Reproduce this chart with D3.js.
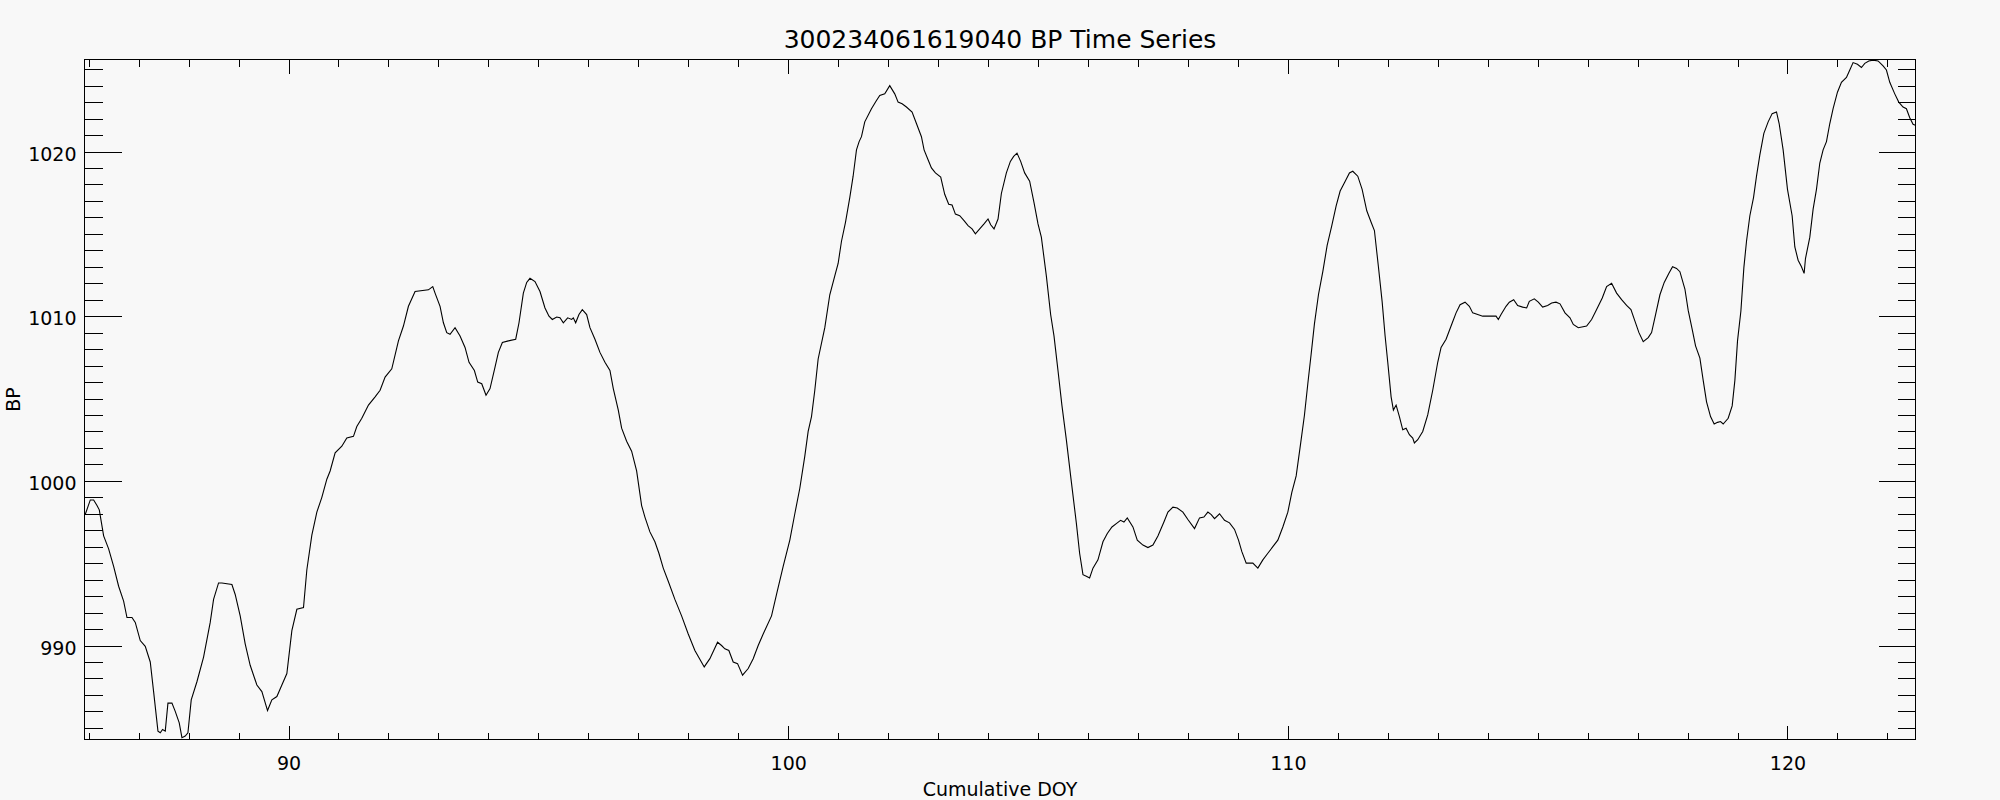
<!DOCTYPE html>
<html>
<head>
<meta charset="utf-8">
<script src="https://cdn.jsdelivr.net/npm/d3@7"></script>
<style>
  html, body { margin: 0; padding: 0; background: #f8f8f8; }
  svg { display: block; }
  text { font-family: "DejaVu Sans", sans-serif; fill: #000; }
</style>
</head>
<body>
<svg id="chart" width="2000" height="800"></svg>
<script>
// ---------------- data ----------------
const chartTitle = "300234061619040 BP Time Series";
const xLabel = "Cumulative DOY";
const yLabel = "BP";

const doy = [
  85.933, 86.033, 86.10, 86.167, 86.213, 86.30, 86.40, 86.50, 86.60, 86.70, 86.767, 86.867, 86.933,
  87.033, 87.133, 87.233, 87.30, 87.387, 87.433, 87.48, 87.533, 87.587, 87.667, 87.733, 87.813, 87.867,
  87.933, 87.987, 88.053, 88.167, 88.30, 88.433, 88.50, 88.60, 88.667, 88.867, 88.933, 89.033, 89.133,
  89.233, 89.367, 89.467, 89.58, 89.667, 89.767, 89.867, 89.967, 90.067, 90.167, 90.30, 90.367, 90.467,
  90.567, 90.667, 90.767, 90.833, 90.933, 91.067, 91.167, 91.30, 91.367, 91.467, 91.60, 91.733, 91.833,
  91.933, 92.067, 92.20, 92.30, 92.40, 92.533, 92.80, 92.887, 92.933, 93.033, 93.10, 93.167, 93.233,
  93.333, 93.433, 93.533, 93.613, 93.72, 93.787, 93.867, 93.953, 94.033, 94.133, 94.20, 94.28, 94.40,
  94.547, 94.613, 94.70, 94.767, 94.833, 94.933, 95.033, 95.133, 95.213, 95.28, 95.367, 95.433, 95.50,
  95.587, 95.667, 95.70, 95.747, 95.813, 95.88, 95.967, 96.033, 96.133, 96.233, 96.333, 96.433, 96.50,
  96.60, 96.667, 96.767, 96.867, 96.967, 97.067, 97.133, 97.233, 97.333, 97.413, 97.50, 97.60, 97.733,
  97.867, 98.0, 98.133, 98.32, 98.433, 98.587, 98.667, 98.733, 98.813, 98.90, 98.987, 99.087, 99.20,
  99.30, 99.40, 99.50, 99.667, 99.767, 99.90, 100.033, 100.133, 100.233, 100.333, 100.40, 100.467,
  100.533, 100.60, 100.733, 100.833, 100.933, 101.0, 101.067, 101.147, 101.233, 101.30, 101.367,
  101.42, 101.467, 101.533, 101.667, 101.767, 101.833, 101.933, 102.033, 102.133, 102.20, 102.28,
  102.367, 102.48, 102.567, 102.667, 102.72, 102.80, 102.867, 102.947, 103.053, 103.133, 103.213,
  103.28, 103.347, 103.433, 103.52, 103.60, 103.68, 103.747, 103.833, 103.92, 104.0, 104.053, 104.12,
  104.20, 104.267, 104.367, 104.447, 104.513, 104.58, 104.653, 104.733, 104.833, 104.92, 105.0,
  105.067, 105.167, 105.253, 105.32, 105.40, 105.48, 105.567, 105.667, 105.767, 105.833, 105.90,
  105.967, 106.033, 106.10, 106.20, 106.30, 106.387, 106.48, 106.567, 106.653, 106.72, 106.787,
  106.90, 106.987, 107.10, 107.20, 107.30, 107.40, 107.52, 107.60, 107.70, 107.787, 107.90, 108.0,
  108.133, 108.233, 108.32, 108.40, 108.467, 108.533, 108.633, 108.733, 108.833, 108.933, 109.013,
  109.08, 109.167, 109.233, 109.30, 109.40, 109.50, 109.60, 109.70, 109.80, 109.90, 110.0, 110.08,
  110.167, 110.253, 110.333, 110.40, 110.467, 110.533, 110.613, 110.70, 110.787, 110.88, 110.967,
  111.047, 111.133, 111.233, 111.30, 111.40, 111.487, 111.58, 111.667, 111.733, 111.813, 111.887,
  111.947, 112.0, 112.067, 112.113, 112.167, 112.233, 112.30, 112.367, 112.433, 112.50, 112.533,
  112.60, 112.70, 112.80, 112.90, 113.0, 113.067, 113.167, 113.267, 113.367, 113.447, 113.547,
  113.633, 113.70, 113.80, 113.90, 114.167, 114.213, 114.267, 114.367, 114.433, 114.52, 114.60,
  114.70, 114.78, 114.833, 114.933, 115.013, 115.10, 115.20, 115.28, 115.367, 115.447, 115.547,
  115.647, 115.713, 115.813, 115.98, 116.08, 116.18, 116.293, 116.38, 116.48, 116.58, 116.68, 116.78,
  116.867, 116.947, 117.027, 117.113, 117.213, 117.28, 117.36, 117.447, 117.533, 117.627, 117.70,
  117.78, 117.847, 117.947, 118.013, 118.093, 118.16, 118.247, 118.313, 118.38, 118.46, 118.533,
  118.60, 118.66, 118.713, 118.813, 118.893, 118.947, 119.0, 119.067, 119.127, 119.18, 119.247,
  119.32, 119.38, 119.447, 119.527, 119.613, 119.693, 119.78, 119.833, 119.913, 120.0, 120.093,
  120.147, 120.213, 120.28, 120.333, 120.36, 120.447, 120.513, 120.58, 120.647, 120.713, 120.78,
  120.847, 120.913, 121.0, 121.08, 121.18, 121.247, 121.313, 121.40, 121.48, 121.547, 121.627,
  121.713, 121.813, 121.913, 121.98, 122.047, 122.147, 122.227, 122.313, 122.38, 122.447, 122.513,
  122.56
];

const bp = [
  997.97, 998.84, 998.84, 998.5, 998.24, 996.66, 995.87, 994.8, 993.6, 992.7, 991.7, 991.7, 991.4,
  990.3, 989.95, 989.0, 987.2, 984.8, 984.7, 984.9, 984.8, 986.5, 986.5, 986.0, 985.3, 984.4,
  984.5, 984.7, 986.7, 987.8, 989.3, 991.4, 992.8, 993.8, 993.8, 993.7, 993.1, 991.8, 990.1,
  988.8, 987.6, 987.2, 986.05, 986.7, 986.9, 987.6, 988.3, 990.9, 992.2, 992.3, 994.6, 996.7,
  998.1, 999.0, 1000.1, 1000.6, 1001.7, 1002.1, 1002.6, 1002.7, 1003.3, 1003.8, 1004.6, 1005.1, 1005.5,
  1006.3, 1006.8, 1008.5, 1009.4, 1010.6, 1011.5, 1011.6, 1011.8, 1011.4, 1010.6, 1009.6, 1009.0, 1008.9,
  1009.3, 1008.8, 1008.1, 1007.2, 1006.7, 1006.0, 1005.9, 1005.2, 1005.6, 1006.9, 1007.8, 1008.4, 1008.5,
  1008.6, 1009.6, 1011.4, 1012.05, 1012.3, 1012.1, 1011.5, 1010.5, 1010.0, 1009.8, 1009.95, 1009.9, 1009.6,
  1009.9, 1009.8, 1009.9, 1009.6, 1010.1, 1010.4, 1010.1, 1009.3, 1008.6, 1007.8, 1007.2, 1006.7, 1005.6,
  1004.3, 1003.2, 1002.4, 1001.8, 1000.6, 998.5, 997.8, 996.9, 996.3, 995.6, 994.7, 993.9, 992.8,
  991.8, 990.7, 989.7, 988.7, 989.2, 990.2, 990.0, 989.8, 989.7, 989.0, 988.9, 988.2, 988.6,
  989.2, 990.0, 990.7, 991.8, 993.1, 994.8, 996.4, 998.0, 999.55, 1001.5, 1003.0, 1003.9,
  1005.5, 1007.4, 1009.3, 1011.3, 1012.45, 1013.2, 1014.55, 1015.7, 1017.2, 1018.5, 1020.1,
  1020.6, 1020.9, 1021.8, 1022.6, 1023.1, 1023.4, 1023.5, 1024.0, 1023.5, 1023.0, 1022.9,
  1022.7, 1022.4, 1021.7, 1020.9, 1020.1, 1019.5, 1019.0, 1018.7, 1018.45, 1017.4, 1016.8,
  1016.75, 1016.2, 1016.1, 1015.8, 1015.5, 1015.3, 1015.0, 1015.3, 1015.6, 1015.9, 1015.55, 1015.3,
  1015.9, 1017.45, 1018.7, 1019.4, 1019.7, 1019.9, 1019.4, 1018.7, 1018.2, 1016.9, 1015.6,
  1014.8, 1012.45, 1010.1, 1008.8, 1006.7, 1004.55, 1002.5, 999.95, 997.45, 995.6, 994.3,
  994.2, 994.1, 994.7, 995.2, 996.3, 996.8, 997.2, 997.4, 997.6, 997.5, 997.75,
  997.2, 996.4, 996.1, 995.95, 996.1, 996.65, 997.5, 998.1, 998.4, 998.35, 998.1, 997.65,
  997.1, 997.75, 997.8, 998.1, 997.95, 997.7, 998.0, 997.6, 997.45, 997.05, 996.4,
  995.7, 995.0, 995.0, 995.0, 994.7, 995.2, 995.6, 996.0, 996.4, 997.2, 998.1, 999.3,
  1000.3, 1002.2, 1004.0, 1005.9, 1007.7, 1009.55, 1011.3, 1012.7, 1014.3, 1015.5, 1016.7,
  1017.6, 1018.1, 1018.7, 1018.8, 1018.5, 1017.7, 1016.4, 1015.7, 1015.2, 1013.0, 1010.9,
  1008.8, 1007.2, 1005.1, 1004.3, 1004.6, 1003.9, 1003.1, 1003.2, 1002.8, 1002.6, 1002.3,
  1002.5, 1003.0, 1004.0, 1005.5, 1007.2, 1008.1, 1008.6, 1009.4, 1010.2, 1010.7, 1010.85,
  1010.6, 1010.2, 1010.1, 1010.0, 1010.0, 1009.8, 1010.1, 1010.6, 1010.85, 1011.0, 1010.65,
  1010.55, 1010.5, 1010.9, 1011.05, 1010.85, 1010.55, 1010.65, 1010.8, 1010.85, 1010.75, 1010.2,
  1009.9, 1009.5, 1009.3, 1009.4, 1009.8, 1010.4, 1011.1, 1011.8, 1012.0, 1011.4, 1011.0, 1010.65,
  1010.4, 1009.7, 1009.0, 1008.45, 1008.7, 1009.0, 1010.1, 1011.3, 1012.05, 1012.6, 1013.0,
  1012.9, 1012.7, 1011.65, 1010.35, 1009.2, 1008.2, 1007.45, 1006.1, 1004.8, 1003.9, 1003.45,
  1003.55, 1003.6, 1003.45, 1003.8, 1004.55, 1006.1, 1008.5, 1010.3, 1012.95, 1014.55, 1016.1,
  1017.2, 1018.5, 1019.8, 1021.1, 1021.8, 1022.3, 1022.4, 1021.7, 1020.1, 1017.7, 1016.1,
  1014.2, 1013.4, 1013.0, 1012.6, 1013.5, 1014.8, 1016.5, 1017.7, 1019.3, 1020.1, 1020.6,
  1021.7, 1022.6, 1023.6, 1024.2, 1024.5, 1024.95, 1025.4, 1025.3, 1025.1, 1025.35, 1025.5,
  1025.55, 1025.5, 1025.2, 1024.95, 1024.2, 1023.5, 1023.0, 1022.7, 1022.6, 1022.05, 1021.65,
  1021.6
];

const xMajorTicks = [90, 100, 110, 120];
const xMinorTicks = d3.range(86, 123).filter(d => d % 10 !== 0);
const yMajorTicks = [990, 1000, 1010, 1020];
const yMinorTicks = d3.range(985, 1026).filter(d => d % 10 !== 0);

const xDomain = [85.917, 122.562];
const yDomain = [984.292, 1025.587];

// ---------------- layout ----------------
const L = 84.5, R = 1915.5, T = 59.5, B = 739.5;

const svg = d3.select("#chart");
svg.append("rect").attr("width", 2000).attr("height", 800).attr("fill", "#f8f8f8");

const x = d3.scaleLinear().domain(xDomain).range([L, R]);
const y = d3.scaleLinear().domain(yDomain).range([B, T]);

function strip(g) { g.select(".domain").remove(); g.selectAll("line").attr("stroke", "#000").attr("shape-rendering", "crispEdges"); }

// bottom axis
svg.append("g").attr("transform", `translate(0,${B})`)
  .call(d3.axisBottom(x).tickValues(xMinorTicks).tickSize(-7).tickFormat(""))
  .call(strip);
const xb = svg.append("g").attr("transform", `translate(0,${B})`)
  .call(d3.axisBottom(x).tickValues(xMajorTicks).tickSize(-14).tickFormat(d3.format("d")))
  .call(strip);
xb.selectAll("text").attr("y", 30.5).attr("dy", null)
  .style("font-size", "19px").style("font-family", "'DejaVu Sans', sans-serif").attr("fill", "#000");

// top axis
svg.append("g").attr("transform", `translate(0,${T})`)
  .call(d3.axisTop(x).tickValues(xMinorTicks).tickSize(-7).tickFormat(""))
  .call(strip);
svg.append("g").attr("transform", `translate(0,${T})`)
  .call(d3.axisTop(x).tickValues(xMajorTicks).tickSize(-14).tickFormat(""))
  .call(strip);

// left axis
svg.append("g").attr("transform", `translate(${L},0)`)
  .call(d3.axisLeft(y).tickValues(yMinorTicks).tickSize(-18).tickFormat(""))
  .call(strip);
const yl = svg.append("g").attr("transform", `translate(${L},0)`)
  .call(d3.axisLeft(y).tickValues(yMajorTicks).tickSize(-37).tickPadding(8).tickFormat(d3.format("d")))
  .call(strip);
yl.selectAll("text").attr("dy", 8.5)
  .style("font-size", "19px").style("font-family", "'DejaVu Sans', sans-serif").attr("fill", "#000");

// right axis
svg.append("g").attr("transform", `translate(${R},0)`)
  .call(d3.axisRight(y).tickValues(yMinorTicks).tickSize(-18).tickFormat(""))
  .call(strip);
svg.append("g").attr("transform", `translate(${R},0)`)
  .call(d3.axisRight(y).tickValues(yMajorTicks).tickSize(-37).tickFormat(""))
  .call(strip);

// frame
svg.append("rect").attr("x", L).attr("y", T).attr("width", R - L).attr("height", B - T)
  .attr("fill", "none").attr("stroke", "#000").attr("stroke-width", 1).attr("shape-rendering", "crispEdges");

// clip + line
svg.append("clipPath").attr("id", "clip").append("rect")
  .attr("x", L).attr("y", T).attr("width", R - L).attr("height", B - T);

const series = doy.map((d, i) => ({ x: d, y: bp[i] }));
svg.append("path")
  .datum(series)
  .attr("clip-path", "url(#clip)")
  .attr("fill", "none")
  .attr("stroke", "#000")
  .attr("stroke-width", 1.1)
  .attr("d", d3.line().x(d => x(d.x)).y(d => y(d.y)));

// titles
svg.append("text").attr("x", (L + R) / 2).attr("y", 48).attr("text-anchor", "middle")
  .style("font-size", "25px").text(chartTitle);
svg.append("text").attr("x", (L + R) / 2).attr("y", 796).attr("text-anchor", "middle")
  .style("font-size", "19px").text(xLabel);
svg.append("text").attr("transform", `translate(20,${(T + B) / 2}) rotate(-90)`).attr("text-anchor", "middle")
  .style("font-size", "19px").text(yLabel);
</script>
</body>
</html>
